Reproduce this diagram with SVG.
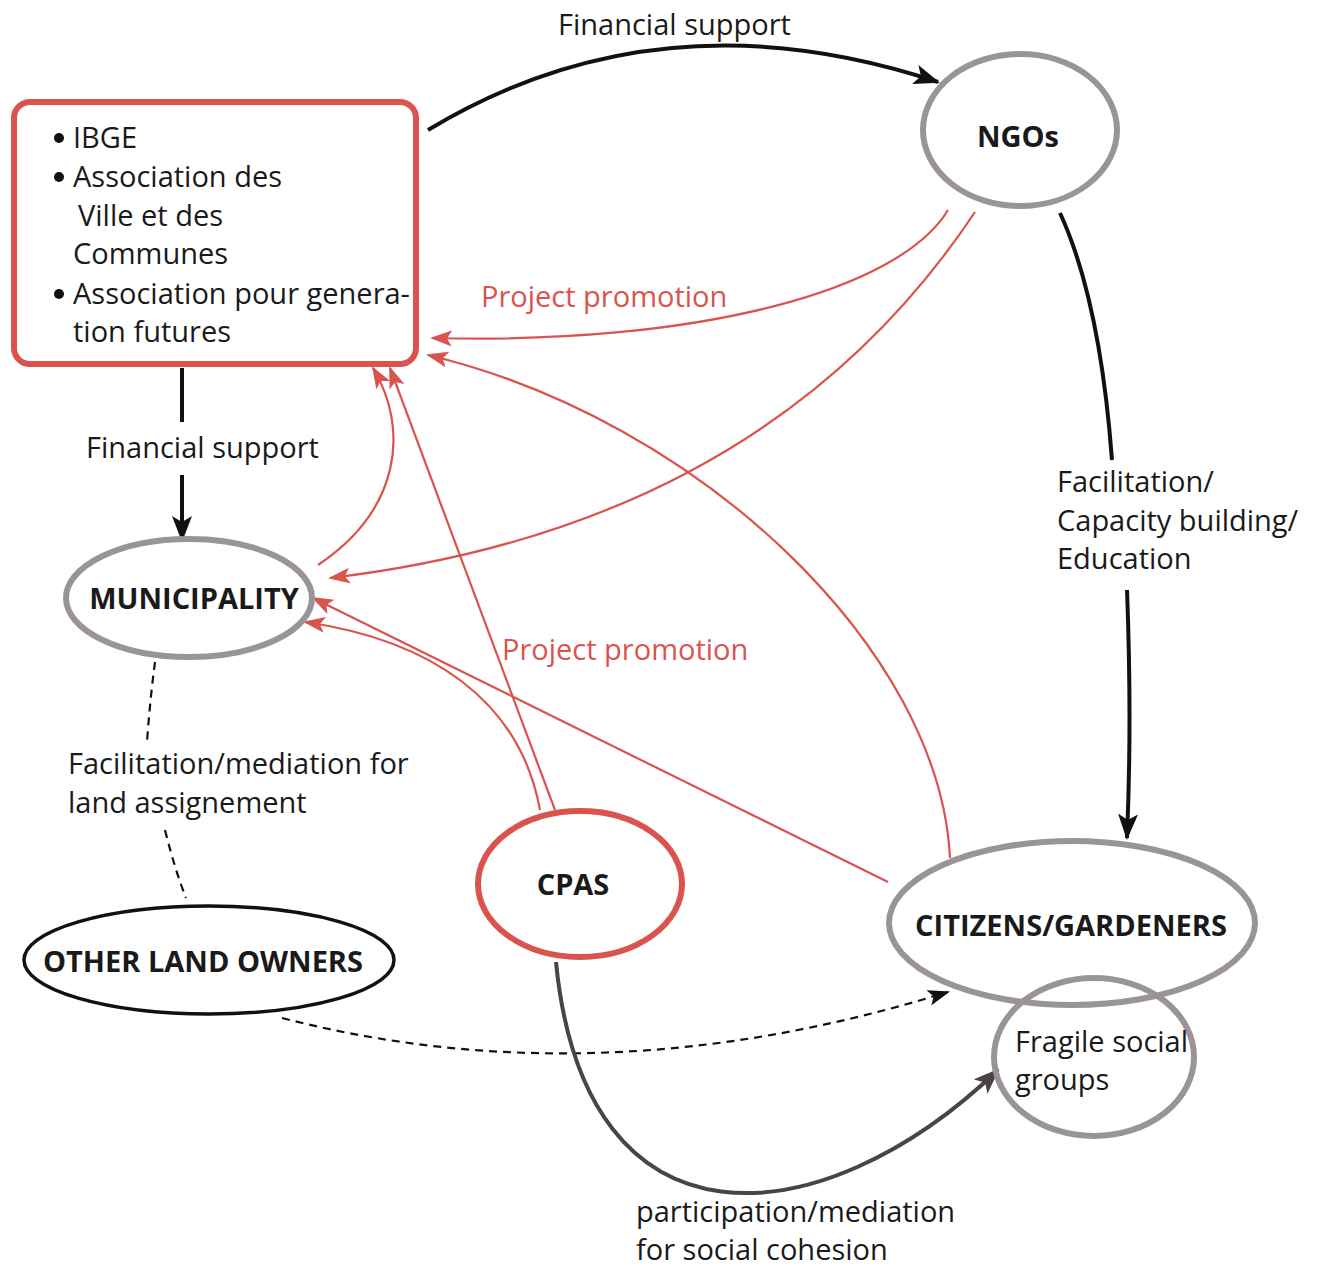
<svg xmlns="http://www.w3.org/2000/svg" width="1319" height="1266" viewBox="0 0 1319 1266">
<style>
  text { font-family: "Open Sans", "Noto Sans", "Liberation Sans", sans-serif; fill: #1a1a1a; }
  .lbl { font-size: 29px; }
  .red { fill: #d9534f; }
  .bold { font-weight: bold; font-size: 29px; }
  .gray-node { fill: none; stroke: #9b9497; stroke-width: 6; }
  .red-node { fill: none; stroke: #d9534f; stroke-width: 6; }
  .blk { fill: none; stroke: #111; stroke-width: 4; }
  .rc { fill: none; stroke: #d9534f; stroke-width: 2.2; }
  .dash { fill: none; stroke: #111; stroke-width: 2.2; stroke-dasharray: 8 6; }
  .dk { fill: none; stroke: #4a4446; stroke-width: 4; }
</style>
<defs>
  <marker id="ab" markerUnits="userSpaceOnUse" markerWidth="28" markerHeight="24" refX="24" refY="10" orient="auto">
    <path d="M0,0 L26,10 L0,20 L6,10 z" fill="#111"/>
  </marker>
  <marker id="ad" markerUnits="userSpaceOnUse" markerWidth="28" markerHeight="24" refX="24" refY="10" orient="auto">
    <path d="M0,0 L26,10 L0,20 L6,10 z" fill="#4a4446"/>
  </marker>
  <marker id="ar" markerUnits="userSpaceOnUse" markerWidth="24" markerHeight="20" refX="20" refY="8" orient="auto">
    <path d="M0,0 L22,8 L0,16 L5,8 z" fill="#d9534f"/>
  </marker>
  <marker id="as" markerUnits="userSpaceOnUse" markerWidth="24" markerHeight="20" refX="20" refY="8" orient="auto">
    <path d="M0,0 L22,8 L0,16 L5,8 z" fill="#111"/>
  </marker>
</defs>
<rect width="1319" height="1266" fill="#fff"/>

<g id="connectors">
  <path class="blk" d="M428,130 Q660,-10 938,82" marker-end="url(#ab)"/>
  <path class="blk" d="M1060,213 Q1100,300 1112,460"/>
  <path class="blk" d="M1127,590 Q1132,720 1127,838" marker-end="url(#ab)"/>
  <path class="blk" d="M182,368 L182,422"/>
  <path class="blk" d="M182,475 L182,540" marker-end="url(#ab)"/>
  <path class="rc" d="M948,210 C900,290 700,345 432,338" marker-end="url(#ar)"/>
  <path class="rc" d="M975,212 C850,400 650,540 330,578" marker-end="url(#ar)"/>
  <path class="rc" d="M318,565 C400,510 410,430 373,368" marker-end="url(#ar)"/>
  <path class="rc" d="M555,810 L390,368" marker-end="url(#ar)"/>
  <path class="rc" d="M950,858 C940,650 700,420 428,355" marker-end="url(#ar)"/>
  <path class="rc" d="M540,810 C520,700 430,640 305,622" marker-end="url(#ar)"/>
  <path class="rc" d="M888,882 L313,598" marker-end="url(#ar)"/>
  <path class="dash" d="M155,662 Q150,700 147,742"/>
  <path class="dash" d="M165,830 Q175,870 186,898"/>
  <path class="dash" d="M282,1018 Q600,1100 948,992" marker-end="url(#as)"/>
  <path class="dk" d="M556,962 C585,1260 820,1240 998,1070" marker-end="url(#ad)"/>
  <text class="lbl" x="558" y="35">Financial support</text>
  <text class="lbl" x="1057" y="492">Facilitation/</text>
  <text class="lbl" x="1057" y="531">Capacity building/</text>
  <text class="lbl" x="1057" y="569">Education</text>
  <text class="lbl" x="86" y="458">Financial support</text>
  <text class="lbl red" x="481" y="307">Project promotion</text>
  <text class="lbl red" x="502" y="660">Project promotion</text>
  <text class="lbl" x="68" y="774">Facilitation/mediation for</text>
  <text class="lbl" x="68" y="813">land assignement</text>
  <text class="lbl" x="636" y="1222">participation/mediation</text>
  <text class="lbl" x="636" y="1260">for social cohesion</text>
</g>

<g id="institutions">
  <rect x="14" y="102" width="402" height="262" rx="16" class="red-node"/>
  <circle cx="59" cy="138" r="5" fill="#111"/>
  <text class="lbl" x="73" y="148">IBGE</text>
  <circle cx="59" cy="177" r="5" fill="#111"/>
  <text class="lbl" x="73" y="187">Association des</text>
  <text class="lbl" x="78" y="226">Ville et des</text>
  <text class="lbl" x="73" y="264">Communes</text>
  <circle cx="59" cy="294" r="5" fill="#111"/>
  <text class="lbl" x="73" y="304">Association pour genera-</text>
  <text class="lbl" x="73" y="342">tion futures</text>
</g>

<g id="ngos">
  <ellipse cx="1020" cy="130" rx="97" ry="76" class="gray-node"/>
  <text class="bold" x="1018" y="147" text-anchor="middle">NGOs</text>
</g>

<g id="municipality">
  <ellipse cx="189" cy="598" rx="123" ry="59" class="gray-node"/>
  <text class="bold" x="194" y="609" text-anchor="middle">MUNICIPALITY</text>
</g>

<g id="cpas">
  <ellipse cx="580" cy="884" rx="102" ry="73" class="red-node"/>
  <text class="bold" x="573" y="895" text-anchor="middle">CPAS</text>
</g>

<g id="citizens">
  <ellipse cx="1072" cy="923" rx="183" ry="82" class="gray-node"/>
  <text class="bold" x="1071" y="936" text-anchor="middle">CITIZENS/GARDENERS</text>
</g>

<g id="fragile">
  <ellipse cx="1094" cy="1057" rx="100" ry="79" class="gray-node"/>
  <text class="lbl" x="1015" y="1052">Fragile social</text>
  <text class="lbl" x="1015" y="1090">groups</text>
</g>

<g id="landowners">
  <ellipse cx="209" cy="960" rx="185" ry="54" fill="none" stroke="#111" stroke-width="3.5"/>
  <text class="bold" x="203" y="972" text-anchor="middle">OTHER LAND OWNERS</text>
</g>
</svg>
